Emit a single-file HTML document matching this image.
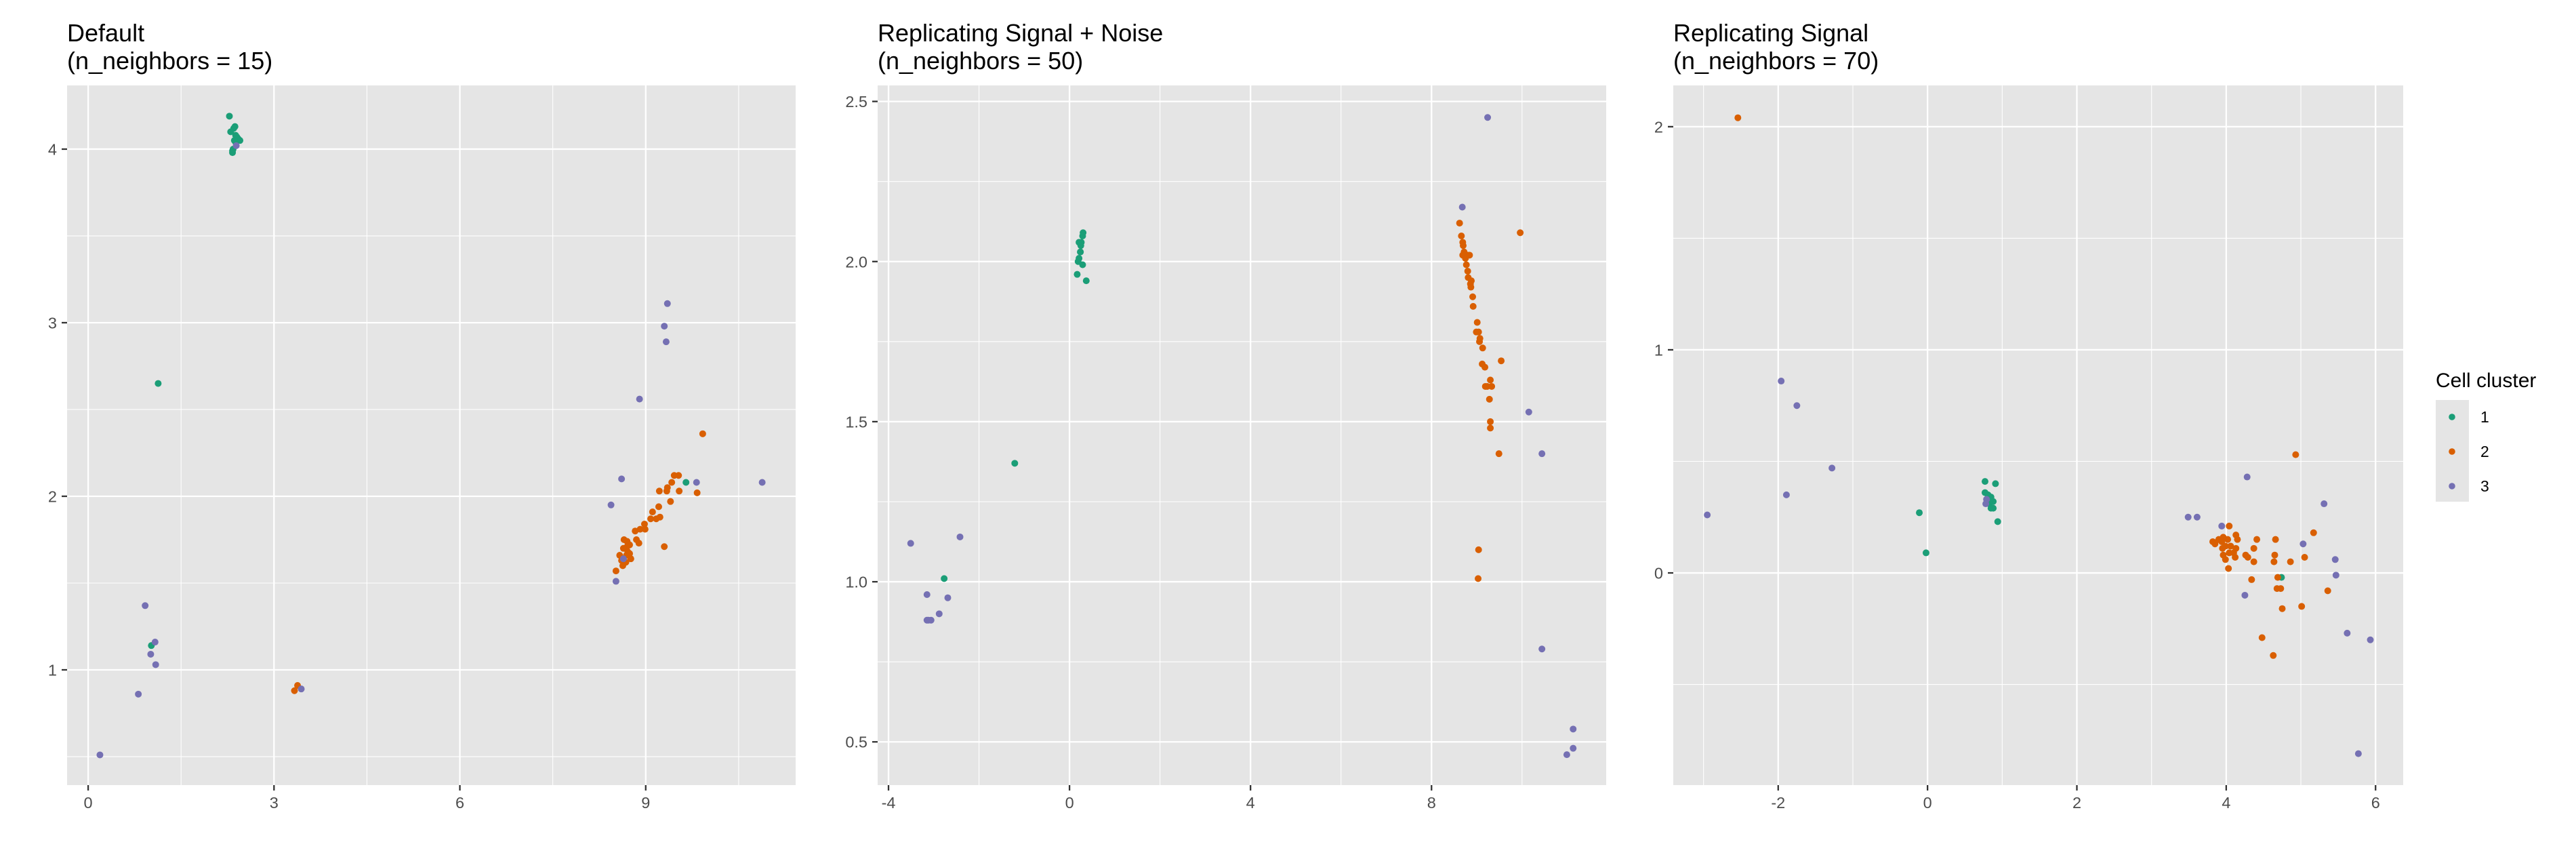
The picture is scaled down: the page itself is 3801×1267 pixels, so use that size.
<!DOCTYPE html>
<html><head><meta charset="utf-8"><style>
html,body{margin:0;padding:0;background:#fff;}
svg{display:block;font-family:"Liberation Sans",Arial,sans-serif;}
</style></head><body>
<svg id="chart" width="3801" height="1267" viewBox="0 0 3801 1267" xmlns="http://www.w3.org/2000/svg">
<rect width="3801" height="1267" fill="#fff"/>
<g id="legend">
  <text x="3594" y="571" font-size="30" fill="#000">Cell cluster</text>
  <rect x="3594" y="590" width="49" height="150" fill="#E5E5E5"/>
  <circle cx="3618" cy="615" r="4.8" fill="#1B9E77"/>
  <circle cx="3618" cy="666" r="4.8" fill="#D95F02"/>
  <circle cx="3618" cy="717" r="4.8" fill="#7570B3"/>
  <text x="3660" y="623" font-size="23" fill="#000">1</text>
  <text x="3660" y="674" font-size="23" fill="#000">2</text>
  <text x="3660" y="725" font-size="23" fill="#000">3</text>
</g>
</svg>
<script>
// ---- Panel 1: Default (n_neighbors = 15)
const p1Green = [[2.28,4.19],[2.30,4.10],[2.35,4.12],[2.37,4.13],[2.38,4.08],[2.40,4.07],[2.42,4.06],[2.45,4.05],[2.36,4.05],[2.38,4.04],[2.33,3.99],[2.33,3.98],[2.34,4.00],[1.13,2.65],[1.02,1.14],[9.65,2.08]];
const p1Orange = [[3.33,0.88],[3.38,0.91],[9.92,2.36],[9.46,2.12],[9.53,2.12],[9.42,2.08],[9.35,2.05],[9.34,2.03],[9.22,2.03],[9.54,2.03],[9.83,2.02],[9.40,1.97],[9.21,1.94],[9.11,1.91],[9.08,1.87],[9.17,1.87],[9.23,1.88],[8.98,1.84],[8.91,1.81],[8.83,1.80],[8.99,1.81],[9.30,1.71],[8.65,1.75],[8.85,1.75],[8.89,1.73],[8.70,1.74],[8.74,1.72],[8.70,1.71],[8.64,1.70],[8.71,1.68],[8.58,1.66],[8.69,1.66],[8.61,1.63],[8.76,1.64],[8.68,1.62],[8.63,1.60],[8.52,1.57],[8.74,1.67]];
const p1Purple = [[2.39,4.02],[0.92,1.37],[1.08,1.16],[1.01,1.09],[1.09,1.03],[0.81,0.86],[0.19,0.51],[3.44,0.89],[9.35,3.11],[9.30,2.98],[9.33,2.89],[8.90,2.56],[8.61,2.10],[8.44,1.95],[9.82,2.08],[10.88,2.08],[8.52,1.51],[8.64,1.64]];
const p1XTicks = [0,3,6,9];
const p1XMinor = [1.5,4.5,7.5,10.5];
const p1YTicks = [1,2,3,4];
const p1YMinor = [0.5,1.5,2.5,3.5];

// ---- Panel 2: Replicating Signal + Noise (n_neighbors = 50)
const p2Green = [[0.30,2.09],[0.29,2.08],[0.26,2.06],[0.21,2.06],[0.25,2.05],[0.24,2.03],[0.24,2.03],[0.21,2.01],[0.19,2.00],[0.29,1.99],[0.17,1.96],[0.37,1.94],[-1.21,1.37],[-2.77,1.01]];
const p2Orange = [[8.62,2.12],[9.96,2.09],[8.66,2.08],[8.69,2.06],[8.70,2.05],[8.72,2.03],[8.80,2.02],[8.84,2.02],[8.69,2.02],[8.75,2.01],[8.77,1.99],[8.80,1.97],[8.81,1.95],[8.88,1.94],[8.86,1.93],[8.87,1.92],[8.91,1.89],[8.92,1.86],[9.01,1.81],[8.99,1.78],[9.04,1.78],[9.07,1.76],[9.06,1.75],[9.13,1.73],[9.54,1.69],[9.12,1.68],[9.18,1.67],[9.30,1.63],[9.23,1.61],[9.19,1.61],[9.33,1.61],[9.28,1.57],[9.30,1.50],[9.30,1.48],[9.49,1.40],[9.04,1.10],[9.03,1.01]];
const p2Purple = [[9.24,2.45],[8.68,2.17],[10.15,1.53],[10.44,1.40],[10.44,0.79],[11.13,0.54],[11.13,0.48],[10.99,0.46],[-3.51,1.12],[-2.42,1.14],[-3.15,0.96],[-2.69,0.95],[-2.88,0.90],[-3.15,0.88],[-3.12,0.88],[-3.06,0.88]];
const p2XTicks = [-4,0,4,8];
const p2XMinor = [-2,2,6,10];
const p2YTicks = [0.5,1.0,1.5,2.0,2.5];
const p2YTickLabels = ["0.5","1.0","1.5","2.0","2.5"];
const p2YMinor = [0.75,1.25,1.75,2.25];

// ---- Panel 3: Replicating Signal (n_neighbors = 70)
const p3Green = [[0.77,0.41],[0.91,0.40],[0.77,0.36],[0.81,0.35],[0.85,0.34],[0.88,0.32],[0.83,0.31],[0.85,0.29],[0.88,0.29],[0.94,0.23],[-0.11,0.27],[-0.02,0.09],[4.74,-0.02]];
const p3Orange = [[-2.54,2.04],[4.93,0.53],[4.04,0.21],[5.17,0.18],[4.66,0.15],[4.41,0.15],[3.82,0.14],[3.85,0.13],[3.90,0.15],[3.96,0.16],[4.13,0.17],[4.15,0.15],[4.02,0.15],[3.94,0.14],[3.99,0.12],[4.06,0.12],[4.13,0.11],[3.95,0.11],[4.37,0.11],[4.04,0.09],[4.10,0.09],[4.26,0.08],[4.29,0.07],[4.65,0.08],[5.05,0.07],[3.96,0.08],[3.99,0.06],[4.12,0.07],[4.37,0.05],[4.64,0.05],[4.86,0.05],[4.03,0.02],[4.69,-0.02],[4.34,-0.03],[4.68,-0.07],[4.73,-0.07],[5.36,-0.08],[5.01,-0.15],[4.75,-0.16],[4.48,-0.29],[4.63,-0.37]];
const p3Purple = [[0.79,0.33],[0.78,0.31],[-2.95,0.26],[-1.96,0.86],[-1.75,0.75],[-1.28,0.47],[-1.89,0.35],[3.49,0.25],[3.61,0.25],[3.94,0.21],[4.28,0.43],[5.31,0.31],[5.03,0.13],[5.46,0.06],[5.47,-0.01],[4.25,-0.10],[5.62,-0.27],[5.93,-0.30],[5.77,-0.81]];
const p3XTicks = [-2,0,2,4,6];
const p3XMinor = [-3,-1,1,3,5];
const p3YTicks = [0,1,2];
const p3YMinor = [-0.5,0.5,1.5];

const NS = "http://www.w3.org/2000/svg";
const svg = document.getElementById('chart');
const COLORS = {green:"#1B9E77", orange:"#D95F02", purple:"#7570B3"};

function mk(tag, attrs, parent){
  const e = document.createElementNS(NS, tag);
  for (const k in attrs) e.setAttribute(k, attrs[k]);
  parent.appendChild(e);
  return e;
}

function panel(cfg){
  const g = mk('g', {}, svg);
  
  
  const L=cfg.left, R=cfg.right, T=126, B=1158;
  const sx = v => L + (v - cfg.xmin) / (cfg.xmax - cfg.xmin) * (R - L);
  const sy = v => B - (v - cfg.ymin) / (cfg.ymax - cfg.ymin) * (B - T);
  const bg = mk('rect', {x:L, y:T, width:R-L, height:B-T, fill:'#E5E5E5'}, g);
  
  
  cfg.xMinor.forEach(v => { const l = mk('line',{x1:sx(v),x2:sx(v),y1:T,y2:B,stroke:'#fff','stroke-width':1.1},g);
      });
  cfg.yMinor.forEach(v => { const l = mk('line',{x1:L,x2:R,y1:sy(v),y2:sy(v),stroke:'#fff','stroke-width':1.1},g);
      });
  cfg.xTicks.forEach(v => {
    const l = mk('line',{x1:sx(v),x2:sx(v),y1:T,y2:B,stroke:'#fff','stroke-width':2.3},g);
     
    const t = mk('line',{x1:sx(v),x2:sx(v),y1:B,y2:B+8,stroke:'#333','stroke-width':2.3},g);
     
    const tx = mk('text',{x:sx(v),y:1192,'font-size':23.5,fill:'#4D4D4D','text-anchor':'middle'},g);
    tx.textContent = String(v);
     
  });
  cfg.yTicks.forEach((v,i) => {
    const l = mk('line',{x1:L,x2:R,y1:sy(v),y2:sy(v),stroke:'#fff','stroke-width':2.3},g);
     
    const t = mk('line',{x1:L-8,x2:L,y1:sy(v),y2:sy(v),stroke:'#333','stroke-width':2.3},g);
     
    const tx = mk('text',{x:L-15,y:sy(v)+8.5,'font-size':23.5,fill:'#4D4D4D','text-anchor':'end'},g);
    tx.textContent = cfg.yLabels ? cfg.yLabels[i] : String(v);
     
  });
  [['green',cfg.green],['orange',cfg.orange],['purple',cfg.purple]].forEach(([c,arr]) => {
    arr.forEach(p => {
      const ci = mk('circle',{cx:sx(p[0]),cy:sy(p[1]),r:5,fill:COLORS[c]},g);
      
      
    });
  });
  const t1 = mk('text',{x:L,y:61,'font-size':36,fill:'#000'},g);
  t1.textContent = cfg.title1;
   
  const t2 = mk('text',{x:L,y:102,'font-size':36,fill:'#000'},g);
  t2.textContent = cfg.title2;
   
}

panel({name:'panel-default', left:99, right:1174, xmin:-0.34, xmax:11.42, ymin:0.336, ymax:4.367,
  xTicks:p1XTicks, xMinor:p1XMinor, yTicks:p1YTicks, yMinor:p1YMinor,
  green:p1Green, orange:p1Orange, purple:p1Purple, title1:'Default', title2:'(n_neighbors = 15)'});
panel({name:'panel-signal-noise', left:1295, right:2370, xmin:-4.24, xmax:11.86, ymin:0.365, ymax:2.55,
  xTicks:p2XTicks, xMinor:p2XMinor, yTicks:p2YTicks, yLabels:p2YTickLabels, yMinor:p2YMinor,
  green:p2Green, orange:p2Orange, purple:p2Purple, title1:'Replicating Signal + Noise', title2:'(n_neighbors = 50)'});
panel({name:'panel-signal', left:2469, right:3546, xmin:-3.405, xmax:6.37, ymin:-0.951, ymax:2.185,
  xTicks:p3XTicks, xMinor:p3XMinor, yTicks:p3YTicks, yMinor:p3YMinor,
  green:p3Green, orange:p3Orange, purple:p3Purple, title1:'Replicating Signal', title2:'(n_neighbors = 70)'});
svg.appendChild(document.getElementById('legend'));
</script>
</body></html>
